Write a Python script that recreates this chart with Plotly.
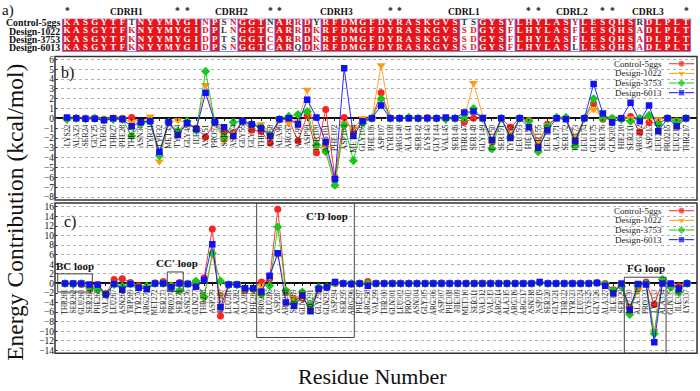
import plotly.graph_objects as go

W, H = 700, 391
FONT = "Liberation Serif"

# ---------------- data ----------------
series = ["Control-5ggs", "Design-1022", "Design-3753", "Design-6013"]
colors = ["#ff2020", "#ff9a10", "#18c818", "#1010ff"]
symbols = ["circle", "triangle-down", "diamond", "square"]
msizes = [7, 8, 7, 6.5]

seq_control = "KASGYTFTNYYMYGINPSNGGTNARRDYRFDMGFDYRASKGVSTSGYSYLHYLASYLESQHSRDLPLT"
seq_1022 = "KASGYTFKNYYMYGIDPLNGGTCARRDKRFDMGFDYRASKGVSSDGYSFLHYLASFLESQHSADLPLT"
seq_3753 = "KASGYTFKNYYMYGIDPTSGGTCARRDKRFDMGFDYRASKGVSSDGYSFLHYLASFLESQHSADLPLT"
seq_6013 = "KASGYTFKNYYMYGIDPSNGGTCARQDKRFDMGFDYRASKGVSSDGYSFLHYLASLLESQHSADLPLT"
similar_groups = ["ND", "YF"]

cdr_labels = ["CDRH1", "CDRH2", "CDRH3", "CDRL1", "CDRL2", "CDRL3"]
cdr_centers = [6.4, 17.75, 29.2, 43.0, 54.65, 62.9]
star_cols = [0, 12, 13, 22, 23, 35, 36, 50, 51, 58, 59, 67]

residues_b = ["LYS22", "ALA23", "SER24", "GLY25", "TYR26", "THR27", "PHE28", "THR29", "ASN30", "TYR31",
              "TYR32", "MET33", "TYR34", "GLY49", "ILE50", "ASN51", "PRO52", "SER53", "ASN54", "GLY55",
              "GLY56", "THR57", "ASN58", "ALA96", "ARG97", "ARG98", "ASP99", "TYR100", "ARG101", "PHE102",
              "ASP103", "MET104", "GLY105", "PHE106", "ASP107", "TYR108", "ARG140", "ALA141", "SER142", "LYS143",
              "GLY144", "VAL145", "SER146", "THR147", "SER148", "GLY149", "TYR150", "SER151", "TYR152", "LEU153",
              "HIE154", "TYR155", "LEU170", "ALA171", "SER172", "TYR173", "LEU174", "GLU175", "SER176", "GLN209",
              "HIE210", "SER211", "ARG212", "ASP213", "LEU214", "PRO215", "LEU216", "THR217"]

b_control = [0, 0, 0, 0, -0.1, 0, 0, 0.1, -0.4, -0.2,
             -3.6, -0.4, -1.5, -0.5, -1.0, -1.9, -0.4, -1.4, -1.5, -0.3,
             -1.2, -1.3, -2.5, -0.1, -0.1, -2.3, 0.3, -3.5, 0.9, -6.0,
             0.1, -1.4, -0.2, 0, 2.6, 0, 0, 0, 0, 0.1,
             0, 0, 0, -0.4, 0, 0, -2.3, 0, -0.9, 0,
             -0.2, -2.7, -0.6, 0, 0, -2.4, 0, 1.5, -0.1, 0,
             0, 0.2, -1.4, -0.4, -0.5, 0, -0.4, 0]
b_1022 = [0, 0, -0.05, 0, -0.1, 0, -0.05, -0.4, -0.4, 0.2,
          -4.4, -0.4, -0.2, -0.4, -1.0, 3.4, -0.4, -2.3, -1.5, -0.3,
          -0.7, -0.6, -1.7, -0.1, -0.5, -0.3, 2.9, -2.9, -3.0, -6.4,
          -0.5, -1.0, 0, 0, 5.4, 0, 0, 0, 0, 0,
          0, 0, 0, 0, 3.6, 0.2, -2.6, 0, -1.6, 0,
          -0.4, -2.4, -0.7, 0, 0, -1.9, 0, 0.9, 0, 0,
          0, 0, -0.1, 0, -0.1, 0, -0.2, 0]
b_3753 = [-0.1, 0, -0.05, 0, -0.15, -0.1, -0.1, -1.8, -0.5, -0.3,
          -3.8, -0.4, -1.3, -0.3, -1.2, 4.8, -0.4, -1.9, -0.4, -0.3,
          -0.6, -0.9, -1.7, -0.1, 0.2, 0.4, 0.7, -2.7, -3.4, -6.8,
          -0.7, -4.3, -0.5, 0, 2.0, 0, 0, 0.1, 0, 0,
          0, -0.1, 0, 0, 1.0, 0, -3.1, 0, -1.9, 0,
          -0.3, -3.4, -0.8, 0.1, 0.1, -2.8, 0, 2.0, 0, 0,
          -0.1, -0.3, 0, 0.3, -0.6, 0, -0.3, 0]
b_6013 = [0.1, 0, -0.05, -0.05, -0.2, 0, -0.1, -0.8, -0.4, -0.3,
          -3.4, -0.4, -1.7, -0.5, -1.1, 2.6, -0.4, -0.9, -1.8, -0.3,
          -0.6, -1.0, -1.8, -0.1, 0, -0.6, 1.9, 0.1, -2.4, -6.2,
          5.1, -1.8, -0.3, 0, 1.3, 0, 0, 0, 0, 0,
          0, 0.1, 0, 0.6, 0.7, 0, -2.2, 0, -2.0, 0,
          -0.9, -3.0, -1.2, 0, -0.1, -2.3, 0, 3.5, 0.5, -0.4,
          0, 1.6, -0.3, 1.3, -1.3, 0, -0.8, 0]

residues_c = ["THR261", "SER262", "GLU263", "SER264", "PHE265", "VAL266", "LEU267", "ASN268", "TRP269", "TYR270",
              "ARG271", "MET272", "SER273", "PRO274", "SER275", "ASN276", "GLN277", "THR278", "ASP279", "LYS280",
              "LEU281", "ALA282", "ALA283", "PHE284", "PRO285", "GLU286", "ASP287", "ARG288", "SER289", "GLN290",
              "PRO291", "GLY292", "GLN293", "ASP294", "SER295", "ARG296", "PHE297", "ARG298", "VAL299", "THR300",
              "GLN301", "LEU302", "PRO303", "ASN304", "GLY305", "ARG306", "ASP307", "PHE308", "HIE309", "MET310",
              "SER311", "VAL312", "VAL313", "ARG314", "ALA315", "ARG316", "ARG317", "ASN318", "ASP319", "SER320",
              "GLY321", "THR322", "TYR323", "LEU324", "CYS325", "GLY326", "ALA327", "ILE328", "SER329", "LEU330",
              "ALA331", "PRO332", "LYS333", "ALA334", "GLN335", "ILE336", "LYS337"]

c_control = [0, 0, -0.2, -1.0, -0.3, -2.2, 0.8, 1.0, 0.2, -0.5,
             -0.9, 0.1, 0.4, -0.5, 0.2, 0, 0, 1.2, 11.4, -6.8,
             -0.2, -0.2, -1.5, -1.1, 0.3, 1.0, 15.5, -1.8, -3.4, -3.0,
             -5.2, -1.2, -0.8, 0, 0, -0.1, 0, 0.4, 0, 0,
             0, 0, 0, 0, 0, 0, 0.1, 0, 0, 0,
             0, 0, 0, 0, 0, 0, 0, 0, 0.2, 0,
             0, 0, 0, 0, 0, 0.2, 0, -1.3, -0.5, -5.0,
             -1.0, 0.3, -4.4, 0.3, -0.1, -0.6, 0]
c_1022 = [0, 0, 0, -1.4, -0.8, -2.2, -0.2, -0.8, 0, -0.8,
          -0.8, 0, 0.1, -0.6, -0.4, -0.1, -0.4, -3.2, 6.0, -2.5,
          -0.3, -0.2, -1.3, -1.5, -0.5, 1.5, 6.0, -1.5, -3.0, -2.8,
          -5.0, -1.0, -0.8, 0.1, 0, 0, 0, 0, 0, 0,
          0, 0, 0, 0, 0, 0, 0, 0, 0, 0,
          0, 0, 0, 0, 0, 0, 0, 0, 0.1, 0,
          0, 0, 0, 0, 0, 0.1, -0.1, -1.8, -0.4, -5.2,
          -1.5, 0, -10.0, 0.5, -0.3, -1.2, 0]
c_3753 = [0, -0.2, 0, -0.8, -1.3, -2.3, -0.2, -0.6, -0.1, -0.9,
          -0.6, 0, 0, -0.5, -1.5, -0.1, 0.5, -2.8, 6.3, 0.5,
          -0.3, -0.3, -1.1, -1.2, -2.3, -0.5, 11.8, -1.5, -4.2, -1.8,
          -4.6, -0.8, -0.8, 0.1, 0, 0, 0, 0, 0, 0,
          0, 0, 0, 0, 0, 0, 0, 0, 0, 0,
          0, 0, 0, 0, 0, 0, 0, 0, 0.1, 0,
          0, 0, 0, 0, 0, 0.1, -0.2, -1.5, -0.6, -6.5,
          -0.5, 0, -10.5, 0.8, -0.8, -1.9, 0]
c_6013 = [0, 0, 0, -0.2, -0.3, -2.3, -0.1, -1.3, -0.1, -0.9,
          -1.2, 0, 0, -0.8, 0, -0.1, -0.7, 0.7, 8.2, -5.0,
          -0.2, -0.2, -1.0, -1.0, -1.7, 1.6, 6.3, -4.0, -4.7, -2.5,
          -5.8, -1.1, -0.8, 0.3, 0, -0.1, 0, -0.5, 0, 0,
          0, 0, 0, 0, 0, 0, 0, 0, 0, 0,
          0, 0, 0, 0, 0, 0, 0, 0, 0.3, 0,
          0, 0, 0, 0, 0, 0.1, -0.5, -2.1, 0, -5.5,
          -0.1, -0.2, -12.3, 0, 0, -1.1, 0]

# loop boxes in panel c: label, x0, x1, y0, y1, label_x, label_y (category index / kcal/mol)
loop_boxes = [
    ("BC loop", -0.89, 3.34, -1.8, 2.0, 1.2, 3.6),
    ("CC\u2032 loop", 12.5, 14.45, -1.7, 2.4, 13.65, 4.2),
    ("C\u2032D loop", 23.42, 35.35, -11.3, 16.83, 32.0, 14.2),
    ("FG loop", 68.34, 73.44, -14.62, 1.3, 71.0, 3.2),
]

# ---------------- layout helpers ----------------
def px(x):
    return x / W

def py(y):
    return 1 - y / H

XL, XR = 55, 697
B_TOP, B_BOT = 55, 200
C_TOP, C_BOT = 203, 355
A_TOP, A_BOT = 16.8, 50.2
b_range = [-8.3, 6.3]
c_range = [-14.62, 16.83]
xb_range = [-1.3, 68.19]
xc_range = [-1.22, 77.22]

def zero_pos(top, bot, rng):
    lo, hi = py(bot), py(top)
    return lo + (0 - rng[0]) / (rng[1] - rng[0]) * (hi - lo)

fig = go.Figure()

b_vals = [b_control, b_1022, b_3753, b_6013]
c_vals = [c_control, c_1022, c_3753, c_6013]

for i, s in enumerate(series):
    fig.add_trace(go.Scatter(
        x=residues_b, y=b_vals[i], name=s, mode="lines+markers",
        line=dict(color=colors[i], width=0.9),
        marker=dict(symbol=symbols[i], size=msizes[i], color=colors[i]),
        xaxis="x", yaxis="y", showlegend=False))
for i, s in enumerate(series):
    fig.add_trace(go.Scatter(
        x=residues_c, y=c_vals[i], name=s, mode="lines+markers",
        line=dict(color=colors[i], width=0.9),
        marker=dict(symbol=symbols[i], size=msizes[i], color=colors[i]),
        xaxis="x2", yaxis="y2", showlegend=False))

# ---------------- alignment (panel a) ----------------
seqs = [seq_control, seq_1022, seq_3753, seq_6013]
ncol = len(seq_control)
conserved = [len(set(s[j] for s in seqs)) == 1 for j in range(ncol)]
RED = "#e8141c"

def grp(ch):
    for g in similar_groups:
        if ch in g:
            return g
    return ch

z = [[1 if conserved[j] else 0 for j in range(ncol)] for _ in seqs]
fig.add_trace(go.Heatmap(
    x=residues_b, y=series, z=z, colorscale=[[0, "white"], [1, RED]],
    zmin=0, zmax=1, showscale=False, xaxis="x3", yaxis="y3", hoverinfo="skip"))

groups = {"white": ([], [], []), "red": ([], [], []), "black": ([], [], [])}
for r, s in enumerate(seqs):
    for j in range(ncol):
        ch = s[j]
        if conserved[j]:
            key = "white"
        else:
            col = [q[j] for q in seqs]
            cnt = sum(1 for c in col if grp(c) == grp(ch))
            key = "red" if cnt >= 3 else "black"
        groups[key][0].append(residues_b[j])
        groups[key][1].append(series[r])
        groups[key][2].append(ch)
text_colors = {"white": "white", "red": RED, "black": "#333333"}
for key, (xs, ys, ts) in groups.items():
    fig.add_trace(go.Scatter(
        x=xs, y=ys, text=ts, mode="text",
        textfont=dict(family=FONT, size=9, color=text_colors[key], weight="bold"),
        xaxis="x3", yaxis="y3", showlegend=False, hoverinfo="skip"))

shapes = []
j = 0
while j < ncol:
    if not conserved[j]:
        k = j
        while k + 1 < ncol and not conserved[k + 1]:
            k += 1
        shapes.append(dict(type="rect", xref="x3", yref="y3", x0=j - 0.5, x1=k + 0.5,
                           y0=-0.5, y1=3.5, line=dict(color="#6f6fe0", width=1)))
        j = k + 1
    else:
        j += 1
shapes.append(dict(type="rect", xref="x3", yref="y3", x0=-0.5, x1=ncol - 0.5,
                   y0=-0.5, y1=3.5, line=dict(color="#6f6fe0", width=1)))

for top, bot in [(B_TOP, B_BOT), (C_TOP, C_BOT)]:
    shapes.append(dict(type="rect", xref="paper", yref="paper", x0=px(XL), x1=px(XR),
                       y0=py(bot), y1=py(top), line=dict(color="#333333", width=1.5)))

annotations = []
for lab, x0, x1, y0, y1, lx, ly in loop_boxes:
    shapes.append(dict(type="rect", xref="x2", yref="y2", x0=x0, x1=x1, y0=y0, y1=y1,
                       line=dict(color="#444444", width=1)))
    annotations.append(dict(text="<b>%s</b>" % lab, xref="x2", yref="y2", x=lx, y=ly,
                            xanchor="center", yanchor="middle",
                            showarrow=False, font=dict(family=FONT, size=11, color="#111")))

# legend keys (text on the left, key on the right as in the reference)
leg_specs = [("x4", "y4"), ("x5", "y5")]
for xa, ya in leg_specs:
    for i, s in enumerate(series):
        fig.add_trace(go.Scatter(
            x=[0, 0.5, 1], y=[i, i, i], mode="lines+markers",
            line=dict(color=colors[i], width=1),
            marker=dict(symbol=symbols[i], size=[0, msizes[i], 0], color=colors[i]),
            xaxis=xa, yaxis=ya, showlegend=False, hoverinfo="skip"))
        annotations.append(dict(text=s, xref="paper", yref=ya, x=px(664), y=i,
                                xanchor="right", yanchor="middle", showarrow=False,
                                font=dict(family=FONT, size=9, color="#222")))

for r, s in enumerate(series):
    annotations.append(dict(text="<b>%s</b>" % s, xref="paper", yref="y3", x=px(61.5), y=s,
                            xanchor="right", yanchor="middle", showarrow=False,
                            font=dict(family=FONT, size=9.8, color="#111")))
for lab, cx in zip(cdr_labels, cdr_centers):
    annotations.append(dict(text="<b>%s</b>" % lab, xref="x3", yref="paper", x=cx, y=py(10.5),
                            xanchor="center", yanchor="middle",
                            showarrow=False, font=dict(family=FONT, size=9.5, color="#111")))
for c in star_cols:
    annotations.append(dict(text="<b>*</b>", xref="x3", yref="paper", x=c, y=py(9.5),
                            xanchor="center", yanchor="middle",
                            showarrow=False, font=dict(family=FONT, size=9.5, color="#111")))

annotations += [
    dict(text="a)", xref="paper", yref="paper", x=px(8), y=py(9), xanchor="center",
         yanchor="middle", showarrow=False, font=dict(family=FONT, size=15, color="#111")),
    dict(text="b)", xref="paper", yref="paper", x=px(67), y=py(B_TOP + 17), xanchor="center",
         yanchor="middle", showarrow=False, font=dict(family=FONT, size=16, color="#111")),
    dict(text="c)", xref="paper", yref="paper", x=px(70), y=py(C_TOP + 19), xanchor="center",
         yanchor="middle", showarrow=False, font=dict(family=FONT, size=16, color="#111")),
    dict(text="Energy Contribution (kcal/mol)", xref="paper", yref="paper", x=px(15), y=py(213),
         xanchor="center", yanchor="middle",
         textangle=-90, showarrow=False, font=dict(family=FONT, size=23.5, color="#111")),
    dict(text="Residue Number", xref="paper", yref="paper", x=px(372), y=py(378),
         xanchor="center", yanchor="middle",
         showarrow=False, font=dict(family=FONT, size=22, color="#111")),
]

grid = dict(showgrid=True, gridcolor="#b0b0b0", griddash="dot", gridwidth=1)
hidden = dict(visible=False)

fig.update_layout(
    width=W, height=H, margin=dict(l=0, r=0, t=0, b=0),
    paper_bgcolor="white", plot_bgcolor="rgba(0,0,0,0)",
    showlegend=False, shapes=shapes, annotations=annotations,
    font=dict(family=FONT, color="#111"),
    xaxis=dict(domain=[px(XL), px(XR)], anchor="free", position=zero_pos(B_TOP, B_BOT, b_range),
               type="category", categoryorder="array", categoryarray=residues_b, range=xb_range,
               tickmode="array", tickvals=residues_b, ticktext=residues_b,
               tickangle=-90, tickfont=dict(family=FONT, size=7.8, color="#222"),
               showgrid=False, zeroline=False, showline=False, ticks="outside", ticklen=2,
               tickcolor="#222"),
    yaxis=dict(domain=[py(B_BOT), py(B_TOP)], anchor="x", range=b_range, dtick=1,
               tickfont=dict(family=FONT, size=9.5), ticks="inside", ticklen=3,
               zeroline=True, zerolinecolor="#111", zerolinewidth=1.6, showline=False, **grid),
    xaxis2=dict(domain=[px(XL), px(XR)], anchor="free", position=zero_pos(C_TOP, C_BOT, c_range),
                type="category", categoryorder="array", categoryarray=residues_c, range=xc_range,
                tickmode="array", tickvals=residues_c, ticktext=residues_c,
                tickangle=-90, tickfont=dict(family=FONT, size=7.2, color="#222"),
                showgrid=False, zeroline=False, showline=False, ticks="outside", ticklen=2,
                tickcolor="#222"),
    yaxis2=dict(domain=[py(C_BOT), py(C_TOP)], anchor="x2", range=c_range, dtick=2,
                tickfont=dict(family=FONT, size=9.5), ticks="inside", ticklen=3,
                zeroline=True, zerolinecolor="#111", zerolinewidth=1.6, showline=False, **grid),
    xaxis3=dict(domain=[px(XL), px(XR)], anchor="y3", type="category", categoryorder="array",
                categoryarray=residues_b, range=xb_range, visible=False),
    yaxis3=dict(domain=[py(A_BOT), py(A_TOP)], anchor="x3", type="category",
                categoryorder="array", categoryarray=series, range=[3.5, -0.5], visible=False),
    xaxis4=dict(domain=[px(669), px(694)], anchor="y4", range=[0, 1], **hidden),
    yaxis4=dict(domain=[py(B_TOP + 41.5), py(B_TOP + 2.5)], anchor="x4", range=[3.5, -0.5], **hidden),
    xaxis5=dict(domain=[px(669), px(694)], anchor="y5", range=[0, 1], **hidden),
    yaxis5=dict(domain=[py(C_TOP + 42), py(C_TOP + 3)], anchor="x5", range=[3.5, -0.5], **hidden),
)

fig.write_html("out.html")
